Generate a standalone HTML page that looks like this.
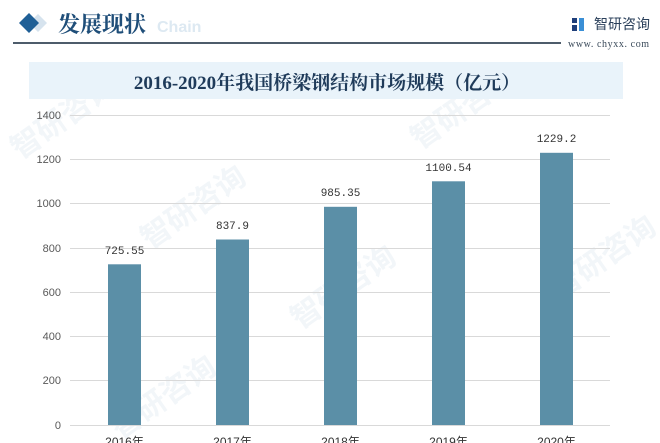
<!DOCTYPE html>
<html><head><meta charset="utf-8"><style>
html,body{margin:0;padding:0;background:#fff;}
body{width:660px;height:443px;overflow:hidden;position:relative;font-family:"Liberation Sans","Noto Sans CJK SC",sans-serif;}
.abs{position:absolute;}
</style></head><body>
<svg class="abs" style="left:0;top:0" width="660" height="443" viewBox="0 0 660 443" xmlns="http://www.w3.org/2000/svg">
  <!-- faint watermarks -->
  <g fill="#f2f6f9" font-family="Noto Sans CJK SC, sans-serif" font-weight="bold" font-size="30">
    <text transform="translate(150,250) rotate(-35)">智研咨询</text>
    <text transform="translate(300,330) rotate(-35)">智研咨询</text>
    <text transform="translate(120,440) rotate(-35)">智研咨询</text>
    <text transform="translate(420,150) rotate(-35)">智研咨询</text>
    <text transform="translate(560,300) rotate(-35)">智研咨询</text>
    <text transform="translate(20,160) rotate(-35)">智研咨询</text>
  </g>
  <!-- header -->
  <polygon points="38,14 47,23 38,32 29,23" fill="#d6e3ee"/>
  <polygon points="29,13 39,23 29,33 19,23" fill="#1f5f96"/>
  <text x="58" y="32" font-family="Liberation Serif, Noto Serif CJK SC, serif" font-weight="bold" font-size="22" fill="#1f4e79">发展现状</text>
  <text x="157" y="32" font-family="Liberation Sans, sans-serif" font-weight="bold" font-size="16" fill="#dde9f2">Chain</text>
  <line x1="13" y1="43" x2="561" y2="43" stroke="#4d5c6b" stroke-width="2"/>
  <!-- logo -->
  <rect x="572" y="18" width="5" height="5" fill="#1f3f7a"/>
  <rect x="572" y="25" width="5" height="6" fill="#1f3f7a"/>
  <rect x="579" y="18" width="5" height="13" fill="#3a8fd6"/>
  <text x="594" y="29" font-family="Noto Sans CJK SC, sans-serif" font-size="14" fill="#2a3f5a">智研咨询</text>
  <text x="568" y="47" font-family="Liberation Serif, serif" font-size="10" letter-spacing="0.6" fill="#3a4a5a">www. chyxx. com</text>
  <!-- title band -->
  <rect x="29" y="62" width="594" height="37" fill="#e9f3fa"/>
  <text x="327" y="89" text-anchor="middle" font-family="Liberation Serif, Noto Serif CJK SC, serif" font-weight="bold" font-size="19" fill="#1f3b5a">2016-2020年我国桥梁钢结构市场规模（亿元）</text>
  <!-- grid -->
  <g stroke="#d9d9d9" stroke-width="1">
    <line x1="70" y1="115.5" x2="610" y2="115.5"/>
    <line x1="70" y1="159.5" x2="610" y2="159.5"/>
    <line x1="70" y1="203.5" x2="610" y2="203.5"/>
    <line x1="70" y1="248.5" x2="610" y2="248.5"/>
    <line x1="70" y1="292.5" x2="610" y2="292.5"/>
    <line x1="70" y1="336.5" x2="610" y2="336.5"/>
    <line x1="70" y1="380.5" x2="610" y2="380.5"/>
    <line x1="70" y1="425.5" x2="610" y2="425.5"/>
  </g>
  <g font-family="Liberation Sans, sans-serif" font-size="11" fill="#595959" text-anchor="end">
    <text x="61" y="119">1400</text>
    <text x="61" y="163">1200</text>
    <text x="61" y="207">1000</text>
    <text x="61" y="252">800</text>
    <text x="61" y="296">600</text>
    <text x="61" y="340">400</text>
    <text x="61" y="384">200</text>
    <text x="61" y="429">0</text>
  </g>
  <!-- bars -->
  <g fill="#5b8fa7">
    <rect x="108" y="264.3" width="33" height="160.7"/>
    <rect x="216" y="239.5" width="33" height="185.5"/>
    <rect x="324" y="206.8" width="33" height="218.2"/>
    <rect x="432" y="181.3" width="33" height="243.7"/>
    <rect x="540" y="152.8" width="33" height="272.2"/>
  </g>
  <g font-family="Liberation Mono, monospace" font-size="11" fill="#333" text-anchor="middle">
    <text x="124.5" y="254">725.55</text>
    <text x="232.5" y="229">837.9</text>
    <text x="340.5" y="196">985.35</text>
    <text x="448.5" y="171">1100.54</text>
    <text x="556.5" y="142">1229.2</text>
  </g>
  <g font-family="Liberation Sans, Noto Sans CJK SC, sans-serif" font-size="12" fill="#333" text-anchor="middle">
    <text x="124.5" y="446">2016年</text>
    <text x="232.5" y="446">2017年</text>
    <text x="340.5" y="446">2018年</text>
    <text x="448.5" y="446">2019年</text>
    <text x="556.5" y="446">2020年</text>
  </g>
</svg>
</body></html>
